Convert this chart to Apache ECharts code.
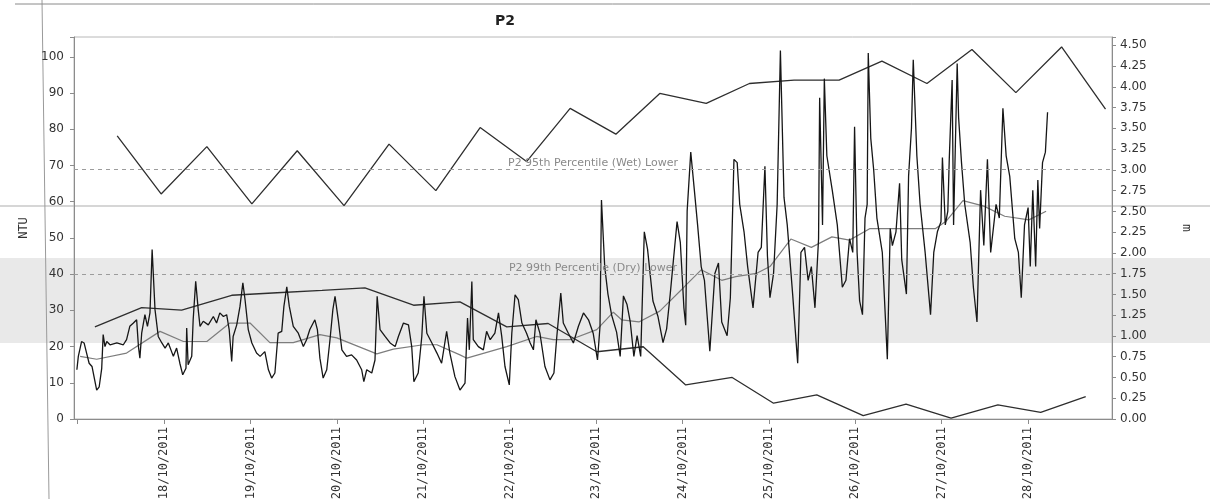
<!DOCTYPE html>
<html>
<head>
<meta charset="utf-8">
<title>P2 turbidity</title>
<script src="https://cdn.jsdelivr.net/npm/echarts@6/dist/echarts.min.js"></script>
<style>
  html, body { margin: 0; padding: 0; background: #ffffff; }
  #chart { width: 1210px; height: 499px; }
</style>
</head>
<body>
<div id="chart"></div>
<script>
// Times are hours after 17/10/2011 00:00.
const turbHours = [
  -0.2, 0.2, 1.1, 1.8, 2.5, 3.2, 4.0, 5.3, 6.0, 6.7, 7.1, 7.6, 8.1, 9.0, 10.9, 12.7, 13.6, 14.5, 15.5, 16.4,
  16.9, 17.3, 17.8, 18.7, 19.4, 20.1, 20.7, 21.5, 22.4, 23.4, 24.3, 25.2, 26.6, 27.5, 28.4, 29.2, 30.1, 30.3, 30.7, 31.7,
  32.1, 32.8, 33.5, 34.0, 34.9, 36.3, 37.7, 38.6, 39.5, 40.5, 41.4, 42.1, 42.8, 43.2, 44.2, 45.1, 45.9, 46.5, 47.4, 48.4,
  49.7, 50.7, 52.0, 53.0, 53.9, 54.8, 55.7, 56.7, 57.3, 58.1, 58.8, 59.9, 61.3, 62.7, 63.6, 64.5, 65.9, 66.6, 67.3, 68.2,
  69.2, 70.1, 70.9, 71.5, 72.4, 73.4, 74.7, 76.1, 77.5, 78.9, 79.5, 80.3, 81.7, 82.6, 83.2, 84.0, 85.4, 86.8, 88.2, 89.1,
  90.5, 91.9, 92.8, 93.4, 94.6, 95.6, 96.2, 97.0, 98.4, 99.8, 101.1, 102.5, 103.4, 104.8, 106.2, 107.6, 108.3, 108.8, 109.5, 109.9,
  111.3, 112.7, 113.6, 114.6, 115.9, 116.9, 117.8, 118.7, 119.9, 120.6, 121.5, 122.4, 123.4, 124.7, 125.7, 126.6, 127.3, 128.4, 129.8, 131.2,
  132.3, 133.1, 134.2, 134.9, 136.3, 137.7, 139.1, 140.5, 141.9, 143.2, 144.4, 145.1, 145.5, 146.4, 147.3, 148.3, 149.7, 150.7, 151.6, 152.6,
  153.5, 154.5, 155.4, 156.4, 157.4, 158.3, 159.0, 159.8, 161.2, 162.6, 163.6, 164.6, 165.5, 166.5, 167.4, 168.4, 168.9, 169.3, 170.3, 171.3,
  172.2, 173.2, 174.1, 175.6, 177.0, 178.0, 178.9, 180.4, 181.3, 182.3, 183.2, 183.9, 185.1, 186.1, 187.6, 189.0, 189.9, 190.9, 191.6, 192.3,
  193.3, 194.3, 195.2, 196.2, 197.1, 198.6, 200.0, 200.9, 201.9, 202.9, 203.8, 204.8, 205.8, 206.1, 206.9, 207.4, 208.1, 209.6, 211.0, 212.4,
  213.4, 214.4, 215.3, 215.8, 216.5, 217.2, 218.0, 218.7, 219.3, 219.6, 220.3, 221.1, 222.0, 223.5, 224.9, 225.7, 226.3, 227.3, 228.3, 228.9,
  230.2, 230.8, 231.6, 232.1, 233.1, 234.0, 235.4, 236.9, 237.8, 238.8, 239.8, 240.2, 241.0, 241.7, 242.1, 242.9, 243.3, 244.3, 244.7, 245.5,
  246.4, 247.9, 248.8, 249.8, 250.8, 251.7, 252.7, 253.6, 255.1, 256.0, 257.0, 257.9, 258.9, 260.3, 261.3, 262.1, 263.0, 264.0, 264.6, 265.3,
  266.1, 266.7, 267.2, 268.0, 268.8, 269.4
];
const turbNTU = [
  13.6, 17.3, 21.4, 21.0, 18.2, 15.4, 14.5, 8.0, 8.9, 14.0, 23.3, 20.0, 21.4, 20.5, 21.0, 20.5, 21.9, 25.6, 26.5, 27.4,
  20.0, 16.8, 23.7, 28.8, 25.6, 29.3, 46.8, 30.2, 22.8, 21.0, 19.6, 21.0, 17.3, 19.6, 15.4, 12.2, 14.0, 25.1, 15.0, 17.3,
  27.4, 38.0, 30.2, 25.6, 27.0, 26.0, 28.3, 26.5, 29.3, 28.3, 28.8, 24.7, 15.9, 22.8, 26.0, 31.1, 37.6, 33.0, 24.7, 21.0,
  18.2, 17.3, 18.6, 13.6, 11.3, 12.7, 23.7, 24.2, 31.1, 36.5, 31.1, 25.6, 23.7, 20.0, 21.9, 24.7, 27.4, 24.7, 16.8, 11.3,
  13.6, 21.9, 30.2, 33.9, 27.4, 19.1, 17.3, 17.7, 16.3, 13.6, 10.3, 13.6, 12.7, 16.3, 33.9, 24.7, 22.8, 21.0, 20.0, 22.8,
  26.5, 26.0, 20.0, 10.3, 12.7, 22.8, 33.9, 23.7, 21.0, 18.2, 15.4, 24.2, 18.2, 11.7, 8.0, 9.9, 27.9, 19.1, 38.0, 21.9,
  20.0, 19.1, 24.2, 21.9, 23.7, 29.3, 22.8, 14.5, 9.4, 23.7, 34.3, 33.0, 26.5, 23.7, 21.0, 19.1, 27.4, 23.7, 14.5, 10.8,
  12.7, 22.8, 34.8, 26.5, 23.7, 21.0, 25.6, 29.3, 27.4, 23.7, 16.3, 25.6, 60.5, 42.1, 34.5, 28.8, 24.0, 17.3, 34.0, 31.6,
  26.8, 17.3, 23.0, 17.3, 51.7, 46.9, 40.2, 32.6, 28.3, 21.1, 24.9, 34.5, 44.0, 54.5, 48.8, 30.7, 25.9, 57.4, 73.7, 63.2,
  53.6, 42.1, 38.3, 18.7, 40.2, 43.1, 26.8, 23.0, 33.5, 71.7, 70.8, 59.3, 51.7, 42.1, 30.7, 46.0, 47.4, 69.8, 45.0, 33.5,
  40.2, 59.3, 101.8, 61.2, 53.6, 34.5, 15.4, 46.0, 47.4, 38.3, 42.1, 30.7, 49.8, 88.7, 53.6, 94.0, 72.7, 63.2, 53.6, 36.4,
  38.3, 49.8, 46.0, 80.7, 46.0, 32.6, 28.8, 55.5, 59.3, 101.1, 77.5, 68.9, 55.5, 46.0, 16.5, 52.6, 47.9, 51.7, 65.1, 44.0,
  34.5, 67.0, 80.3, 99.2, 72.7, 59.3, 46.0, 28.8, 46.0, 51.7, 54.5, 72.2, 53.6, 57.4, 71.7, 93.6, 53.6, 98.2, 83.2, 70.8,
  59.3, 48.8, 36.4, 26.8, 63.2, 47.9, 71.7, 46.0, 59.3, 55.5, 85.8, 72.7, 67.0, 49.8, 46.0, 33.5, 53.6, 58.4, 42.1, 63.2,
  42.1, 66.0, 52.6, 70.8, 73.7, 84.7
];

// Running mean of turbidity (NTU)
const avgHours = [
  0.7, 5.3, 13.6, 22.9, 29.4, 35.9, 42.3, 47.9, 53.4, 59.9, 67.3, 72.0, 83.1, 87.7, 96.0, 99.8, 106.2, 108.1, 119.2, 127.5,
  132.1, 136.8, 144.2, 148.8, 151.1, 155.9, 161.7, 168.4, 173.2, 178.9, 182.8, 188.5, 192.3, 198.1, 203.8, 209.5, 214.4, 220.1, 227.8, 232.6,
  238.3, 241.2, 245.9, 251.7, 257.5, 264.2, 269.0
];
const avgNTU = [
  17.3, 16.5, 18.2, 24.2, 21.4, 21.4, 26.5, 26.5, 21.1, 21.1, 23.3, 22.4, 18.0, 19.3, 20.5, 20.5, 17.7, 16.8, 20.0, 22.8,
  21.9, 21.9, 24.7, 29.5, 27.4, 26.8, 29.8, 36.4, 41.2, 38.3, 39.3, 40.2, 42.1, 49.7, 47.4, 50.3, 49.4, 52.6, 52.6, 52.6,
  52.6, 54.6, 60.3, 58.8, 56.0, 55.0, 57.4
];

// High and low tide heights (m)
const highHours = [11.0, 23.2, 35.9, 48.4, 61.0, 74.0, 86.5, 99.5, 111.8, 124.7, 136.8, 149.5, 161.7, 174.6, 186.6, 199.0, 211.5, 223.4, 235.9, 248.4, 260.6, 273.3, 285.5];
const highM = [3.41, 2.71, 3.28, 2.59, 3.23, 2.57, 3.31, 2.75, 3.51, 3.10, 3.74, 3.43, 3.92, 3.80, 4.04, 4.08, 4.08, 4.31, 4.04, 4.45, 3.93, 4.48, 3.73];
const lowHours = [4.8, 17.8, 28.9, 42.8, 55.4, 67.9, 79.8, 93.3, 106.2, 119.2, 130.7, 144.2, 157.1, 168.9, 181.8, 193.3, 205.3, 218.2, 230.1, 242.6, 255.6, 267.5, 280.0];
const lowM = [1.11, 1.34, 1.31, 1.49, 1.52, 1.55, 1.58, 1.37, 1.41, 1.11, 1.15, 0.81, 0.87, 0.41, 0.50, 0.19, 0.29, 0.04, 0.18, 0.01, 0.17, 0.08, 0.27];

// Reference levels (NTU)
const wetLower = 69;
const dryLower = 40;
const wetLabel = 'P2 95th Percentile (Wet) Lower';
const dryLabel = 'P2 99th Percentile (Dry) Lower';

const HOUR = 3600000;
const start = new Date(2011, 9, 17).getTime();
const toTime = h => start + h * HOUR;
const pairs = (hs, vs) => hs.map((h, i) => [toTime(h), vs[i]]);

const pad = n => (n < 10 ? '0' : '') + n;
const dateLabel = v => {
  const d = new Date(v);
  return pad(d.getDate()) + '/' + pad(d.getMonth() + 1) + '/' + d.getFullYear();
};

const xMin = toTime(-1);
const xMax = toTime(287.3);

const chart = echarts.init(document.getElementById('chart'), null, { renderer: 'canvas' });

chart.setOption({
  animation: false,
  backgroundColor: '#ffffff',
  title: {
    text: 'P2',
    left: 490,
    top: 9,
    textStyle: { fontFamily: 'DejaVu Sans', fontSize: 14, fontWeight: 'bold', color: '#222' }
  },
  graphic: [
    { type: 'rect', z: -10, shape: { x: 0, y: 258, width: 1210, height: 85 }, style: { fill: '#e9e9e9' } },
    { type: 'line', z: -10, shape: { x1: 0, y1: 206, x2: 1210, y2: 206 }, style: { stroke: '#d6d6d6', lineWidth: 2 } },
    { type: 'line', z: -5, shape: { x1: 42, y1: 0, x2: 49, y2: 499 }, style: { stroke: '#9a9a9a', lineWidth: 1 } },
    { type: 'line', z: -5, shape: { x1: 15, y1: 4, x2: 1210, y2: 4 }, style: { stroke: '#8a8a8a', lineWidth: 1 } }
  ],
  grid: {
    left: 74, right: 98, top: 37, bottom: 80,
    outerBoundsMode: 'none',
    containLabel: false,
    show: true, borderColor: '#b8b8b8', borderWidth: 1, backgroundColor: 'transparent'
  },
  xAxis: {
    type: 'time',
    min: xMin,
    max: xMax,
    minInterval: 24 * HOUR,
    maxInterval: 24 * HOUR,
    splitLine: { show: false },
    axisLine: { lineStyle: { color: '#8c8c8c', width: 1 } },
    axisTick: { show: true, length: 5, lineStyle: { color: '#8c8c8c' } },
    axisLabel: {
      rotate: 90,
      margin: 8,
      showMinLabel: false,
      showMaxLabel: false,
      color: '#333',
      fontFamily: 'DejaVu Sans Mono',
      fontSize: 12,
      formatter: v => (v - xMin < 12 * HOUR ? '' : dateLabel(v))
    }
  },
  yAxis: [
    {
      type: 'value',
      name: 'NTU',
      nameLocation: 'middle',
      nameGap: 44,
      nameRotate: 90,
      nameTextStyle: { fontFamily: 'DejaVu Sans Mono', fontSize: 12, color: '#333' },
      min: 0,
      max: 105.5,
      interval: 10,
      splitLine: { show: false },
      axisLine: { show: true, lineStyle: { color: '#8c8c8c' } },
      axisTick: { show: true, length: 4, lineStyle: { color: '#8c8c8c' } },
      axisLabel: {
        margin: 10,
        color: '#333',
        fontFamily: 'DejaVu Sans',
        fontSize: 12,
        formatter: v => (v % 10 === 0 ? String(v) : '')
      }
    },
    {
      type: 'value',
      name: 'm',
      nameLocation: 'middle',
      nameGap: 68,
      nameRotate: -90,
      nameTextStyle: { fontFamily: 'DejaVu Sans Mono', fontSize: 13, color: '#333' },
      min: 0,
      max: 4.6,
      interval: 0.25,
      position: 'right',
      splitLine: { show: false },
      axisLine: { show: true, lineStyle: { color: '#8c8c8c' } },
      axisTick: { show: true, length: 4, lineStyle: { color: '#8c8c8c' } },
      axisLabel: {
        margin: 8,
        color: '#333',
        fontFamily: 'DejaVu Sans',
        fontSize: 12,
        formatter: v => (Math.abs(v / 0.25 - Math.round(v / 0.25)) < 1e-6 ? v.toFixed(2) : '')
      }
    }
  ],
  series: [
    {
      name: 'Turbidity',
      type: 'line',
      yAxisIndex: 0,
      data: pairs(turbHours, turbNTU),
      showSymbol: false,
      z: 4,
      lineStyle: { color: '#161616', width: 1.3 },
      markLine: {
        silent: true,
        symbol: 'none',
        lineStyle: { type: [4, 4], color: '#9c9c9c', width: 1 },
        label: {
          position: 'insideMiddleTop',
          distance: 1,
          color: '#8a8a8a',
          fontFamily: 'DejaVu Sans',
          fontSize: 11,
          formatter: p => p.name
        },
        data: [
          { yAxis: wetLower, name: wetLabel },
          { yAxis: dryLower, name: dryLabel }
        ]
      }
    },
    {
      name: 'Running mean',
      type: 'line',
      yAxisIndex: 0,
      data: pairs(avgHours, avgNTU),
      showSymbol: false,
      z: 3,
      lineStyle: { color: '#7d7d7d', width: 1.2 }
    },
    {
      name: 'High tide',
      type: 'line',
      yAxisIndex: 1,
      data: pairs(highHours, highM),
      showSymbol: false,
      z: 3,
      lineStyle: { color: '#2e2e2e', width: 1.3 }
    },
    {
      name: 'Low tide',
      type: 'line',
      yAxisIndex: 1,
      data: pairs(lowHours, lowM),
      showSymbol: false,
      z: 3,
      lineStyle: { color: '#2e2e2e', width: 1.3 }
    }
  ]
});
</script>
</body>
</html>
